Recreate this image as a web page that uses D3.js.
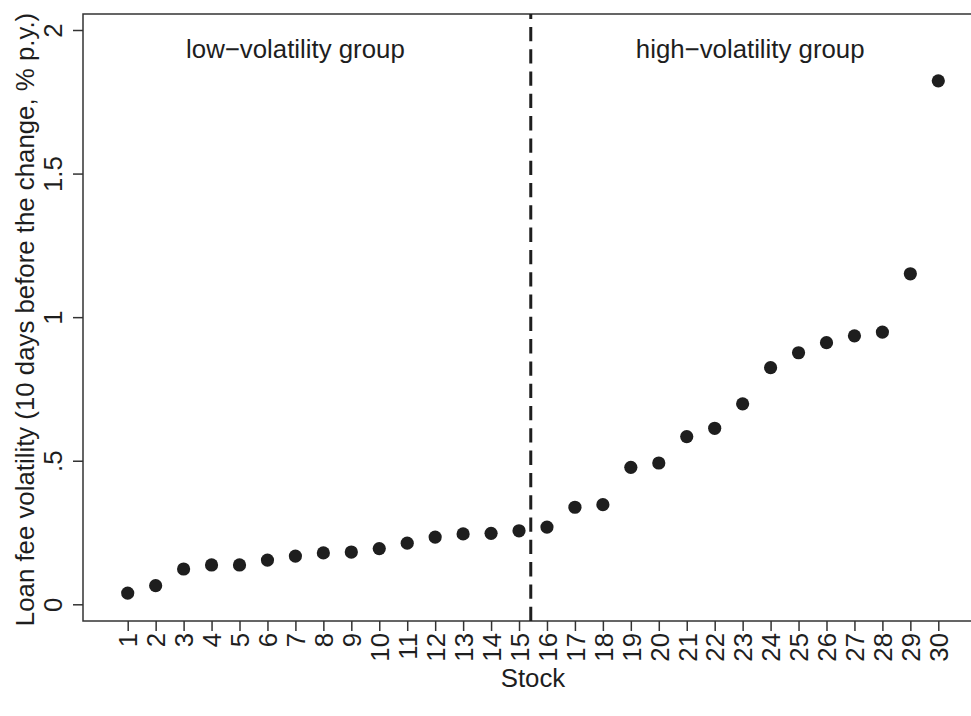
<!DOCTYPE html>
<html>
<head>
<meta charset="utf-8">
<script src="https://cdn.jsdelivr.net/npm/d3@7"></script>
<style>
  body { margin: 0; background: #fff; }
  svg { display: block; font-family: "Liberation Sans", Arial, Helvetica, sans-serif; }
</style>
</head>
<body>
<div id="chart"></div>
<script>
const stocks = d3.range(1, 31);
const feeVolatility = [
  0.039, 0.065, 0.123, 0.137, 0.137, 0.154, 0.168, 0.179, 0.182, 0.194,
  0.213, 0.234, 0.245, 0.247, 0.256, 0.269, 0.338, 0.347, 0.477, 0.492,
  0.584, 0.613, 0.698, 0.824, 0.876, 0.911, 0.935, 0.948, 1.151, 1.823
];
const yTicks = [0, 0.5, 1, 1.5, 2];
const yTickLabels = ['0', '.5', '1', '1.5', '2'];
const groupSplit = 15.42;
const groupLabels = [
  { x: 7, text: 'low\u2212volatility group' },
  { x: 23.27, text: 'high\u2212volatility group' }
];

const WIDTH = 971;
const HEIGHT = 716;
const frame = { left: 83, top: 14, right: 983, bottom: 621 };
const ink = '#1e1e1e';
const fontSize = 25.8;

const svg = d3
  .select('#chart')
  .append('svg')
  .attr('width', WIDTH)
  .attr('height', HEIGHT);

// scales
const scaleX = d3.scaleLinear().domain([1, 30]).range([127.7, 938.3]);
const scaleY = d3.scaleLinear().domain([0, 2]).range([604.3, 30]);

// plot frame (right side runs off the canvas)
svg
  .append('rect')
  .attr('x', frame.left)
  .attr('y', frame.top)
  .attr('width', frame.right - frame.left)
  .attr('height', frame.bottom - frame.top)
  .attr('fill', 'none')
  .attr('stroke', '#333')
  .attr('stroke-width', 1.5);

// y axis
const axisY = d3
  .axisLeft(scaleY)
  .tickValues(yTicks)
  .tickSize(10)
  .tickFormat((d, i) => yTickLabels[i]);
const gY = svg
  .append('g')
  .attr('transform', `translate(${frame.left},0)`)
  .call(axisY);
gY.select('.domain').remove();
gY.selectAll('line').attr('stroke', '#333').attr('stroke-width', 1.5);
gY.selectAll('text')
  .attr('transform', 'rotate(-90)')
  .attr('x', 0)
  .attr('y', -21)
  .attr('dy', 0)
  .attr('text-anchor', 'middle')
  .attr('fill', ink)
  .style('font-size', fontSize + 'px');

// x axis
const axisX = d3.axisBottom(scaleX).tickValues(stocks).tickSize(10).tickFormat(d3.format('d'));
const gX = svg
  .append('g')
  .attr('transform', `translate(0,${frame.bottom})`)
  .call(axisX);
gX.select('.domain').remove();
gX.selectAll('line').attr('stroke', '#333').attr('stroke-width', 1.5);
gX.selectAll('text')
  .attr('transform', 'rotate(-90)')
  .attr('x', -12)
  .attr('y', 0)
  .attr('dy', '0.36em')
  .attr('text-anchor', 'end')
  .attr('fill', ink)
  .style('font-size', fontSize + 'px');
svg.selectAll('g').attr('font-family', null).attr('font-size', null);

// group divider
svg
  .append('line')
  .attr('x1', scaleX(groupSplit))
  .attr('x2', scaleX(groupSplit))
  .attr('y1', frame.bottom)
  .attr('y2', frame.top)
  .attr('stroke', ink)
  .attr('stroke-width', 3)
  .attr('stroke-dasharray', '14.3,8');

// group labels
svg
  .selectAll('text.group')
  .data(groupLabels)
  .join('text')
  .attr('class', 'group')
  .attr('x', (d) => scaleX(d.x))
  .attr('y', 58)
  .attr('text-anchor', 'middle')
  .attr('fill', ink)
  .style('font-size', fontSize + 'px')
  .text((d) => d.text);

// points
svg
  .selectAll('circle')
  .data(stocks)
  .join('circle')
  .attr('cx', (d) => scaleX(d))
  .attr('cy', (d, i) => scaleY(feeVolatility[i]))
  .attr('r', 6.6)
  .attr('fill', ink);

// axis titles
svg
  .append('text')
  .attr('transform', `translate(33.5,${(frame.top + frame.bottom) / 2 + 2}) rotate(-90)`)
  .attr('text-anchor', 'middle')
  .attr('fill', ink)
  .style('font-size', fontSize + 'px')
  .text('Loan fee volatility (10 days before the change, % p.y.)');

svg
  .append('text')
  .attr('x', (frame.left + frame.right) / 2)
  .attr('y', 687)
  .attr('text-anchor', 'middle')
  .attr('fill', ink)
  .style('font-size', fontSize + 'px')
  .text('Stock');
</script>
</body>
</html>
